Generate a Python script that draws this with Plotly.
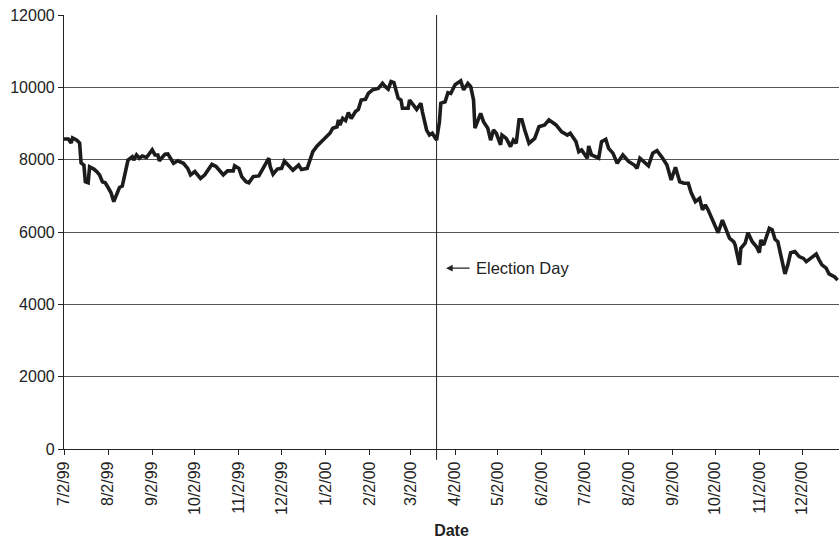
import plotly.graph_objects as go

# Daily index level, July 1999 - December 2000
dates = [
    "1999-07-02", "1999-07-05", "1999-07-07", "1999-07-08", "1999-07-11", "1999-07-13",
    "1999-07-14", "1999-07-16", "1999-07-17", "1999-07-19", "1999-07-20", "1999-07-23",
    "1999-07-25", "1999-07-27", "1999-07-29", "1999-07-31", "1999-08-02", "1999-08-04",
    "1999-08-06", "1999-08-08", "1999-08-10", "1999-08-12", "1999-08-14", "1999-08-16",
    "1999-08-19", "1999-08-20", "1999-08-22", "1999-08-24", "1999-08-26", "1999-08-29",
    "1999-09-02", "1999-09-04", "1999-09-06", "1999-09-07", "1999-09-11", "1999-09-13",
    "1999-09-17", "1999-09-20", "1999-09-24", "1999-09-27", "1999-09-29", "1999-10-02",
    "1999-10-06", "1999-10-09", "1999-10-14", "1999-10-17", "1999-10-22", "1999-10-25",
    "1999-10-29", "1999-10-30", "1999-11-02", "1999-11-04", "1999-11-07", "1999-11-09",
    "1999-11-12", "1999-11-16", "1999-11-19", "1999-11-23", "1999-11-24", "1999-11-26",
    "1999-11-29", "1999-12-02", "1999-12-04", "1999-12-07", "1999-12-10", "1999-12-14",
    "1999-12-16", "1999-12-20", "1999-12-24", "1999-12-27", "1999-12-31", "2000-01-05",
    "2000-01-07", "2000-01-10", "2000-01-11", "2000-01-12", "2000-01-14", "2000-01-16",
    "2000-01-18", "2000-01-20", "2000-01-23", "2000-01-25", "2000-01-27", "2000-01-30",
    "2000-02-01", "2000-02-04", "2000-02-08", "2000-02-11", "2000-02-13", "2000-02-15",
    "2000-02-17", "2000-02-19", "2000-02-22", "2000-02-24", "2000-02-25", "2000-02-29",
    "2000-03-01", "2000-03-03", "2000-03-06", "2000-03-09", "2000-03-10", "2000-03-13",
    "2000-03-15", "2000-03-17", "2000-03-20", "2000-03-22", "2000-03-23", "2000-03-26",
    "2000-03-28", "2000-03-30", "2000-04-02", "2000-04-06", "2000-04-08", "2000-04-11",
    "2000-04-13", "2000-04-15", "2000-04-16", "2000-04-20", "2000-04-22", "2000-04-25",
    "2000-04-27", "2000-04-29", "2000-05-01", "2000-05-04", "2000-05-05", "2000-05-08",
    "2000-05-11", "2000-05-13", "2000-05-15", "2000-05-17", "2000-05-19", "2000-05-21",
    "2000-05-24", "2000-05-28", "2000-05-31", "2000-06-04", "2000-06-07", "2000-06-12",
    "2000-06-16", "2000-06-20", "2000-06-22", "2000-06-26", "2000-06-28", "2000-06-30",
    "2000-07-04", "2000-07-05", "2000-07-07", "2000-07-12", "2000-07-14", "2000-07-17",
    "2000-07-19", "2000-07-22", "2000-07-25", "2000-07-29", "2000-08-02", "2000-08-06",
    "2000-08-08", "2000-08-10", "2000-08-13", "2000-08-16", "2000-08-19", "2000-08-22",
    "2000-08-26", "2000-08-29", "2000-09-01", "2000-09-04", "2000-09-07", "2000-09-10",
    "2000-09-13", "2000-09-15", "2000-09-18", "2000-09-21", "2000-09-23", "2000-09-25",
    "2000-09-27", "2000-09-30", "2000-10-03", "2000-10-04", "2000-10-07", "2000-10-09",
    "2000-10-12", "2000-10-15", "2000-10-16", "2000-10-19", "2000-10-20", "2000-10-23",
    "2000-10-25", "2000-10-28", "2000-10-31", "2000-11-02", "2000-11-03", "2000-11-05",
    "2000-11-07", "2000-11-09", "2000-11-11", "2000-11-13", "2000-11-15", "2000-11-18",
    "2000-11-20", "2000-11-22", "2000-11-24", "2000-11-27", "2000-11-30", "2000-12-03",
    "2000-12-05", "2000-12-08", "2000-12-12", "2000-12-14", "2000-12-16", "2000-12-19",
    "2000-12-21", "2000-12-25", "2000-12-27",
]

index_level = [
    8570, 8570, 8460, 8600, 8540, 8460,
    7910, 7850, 7390, 7360, 7800, 7740,
    7670, 7580, 7390, 7360, 7230, 7090,
    6840, 7020, 7230, 7270, 7620, 7990,
    8080, 7990, 8130, 8040, 8100, 8060,
    8270, 8130, 8130, 7970, 8150, 8160,
    7900, 7970, 7900, 7760, 7580, 7670,
    7480, 7580, 7870, 7810, 7580, 7690,
    7690, 7830, 7760, 7530, 7390, 7360,
    7530, 7550, 7760, 8040, 7810, 7600,
    7740, 7760, 7960, 7850, 7710, 7850,
    7730, 7760, 8220, 8380, 8540, 8730,
    8870, 8910, 9100, 8960, 9140, 9080,
    9300, 9140, 9330, 9390, 9650, 9670,
    9830, 9930, 9970, 10110, 10020, 9950,
    10160, 10130, 9700, 9650, 9420, 9420,
    9650, 9560, 9390, 9560, 9330, 8820,
    8680, 8730, 8540, 9050, 9560, 9600,
    9850, 9830, 10070, 10180, 9930, 10110,
    10020, 9650, 8870, 9280, 9050, 8870,
    8540, 8820, 8730, 8410, 8680, 8590,
    8360, 8540, 8450, 9100, 9100, 8820,
    8450, 8590, 8910, 8960, 9100, 8960,
    8770, 8680, 8730, 8500, 8220, 8270,
    8040, 8380, 8130, 8040, 8500, 8560,
    8310, 8180, 7900, 8130, 7950, 7850,
    7760, 8040, 7950, 7830, 8180, 8250,
    8040, 7850, 7440, 7790, 7390, 7350,
    7350, 7090, 6840, 6930, 6610, 6750,
    6610, 6330, 6100, 5980, 6330, 6100,
    5830, 5730, 5640, 5090, 5550, 5690,
    5980, 5730, 5590, 5430, 5780, 5640,
    5870, 6100, 6060, 5800, 5730, 5230,
    4840, 5090, 5430, 5460, 5320, 5270,
    5180, 5270, 5390, 5230, 5090, 5000,
    4840, 4760, 4670,
]

tick_dates = [
    "1999-07-02", "1999-08-02", "1999-09-02", "1999-10-02", "1999-11-02", "1999-12-02",
    "2000-01-02", "2000-02-02", "2000-03-02", "2000-04-02", "2000-05-02", "2000-06-02",
    "2000-07-02", "2000-08-02", "2000-09-02", "2000-10-02", "2000-11-02", "2000-12-02",
]
tick_labels = [
    "7/2/99", "8/2/99", "9/2/99", "10/2/99", "11/2/99", "12/2/99",
    "1/2/00", "2/2/00", "3/2/00", "4/2/00", "5/2/00", "6/2/00",
    "7/2/00", "8/2/00", "9/2/00", "10/2/00", "11/2/00", "12/2/00",
]

election_day = "2000-03-20"
x_range = ["1999-07-02", "2000-12-28"]

FONT = "Liberation Sans, Arial, sans-serif"
TXT = "#222222"

fig = go.Figure()
fig.add_trace(go.Scatter(
    x=dates, y=index_level, mode="lines",
    line=dict(color="#1c1c1c", width=3.6),
    hoverinfo="x+y", showlegend=False,
))

# Vertical marker for election day, running slightly below the axis
fig.add_shape(
    type="line", xref="x", yref="paper",
    x0=election_day, x1=election_day, y0=-0.025, y1=1,
    line=dict(color=TXT, width=1),
)

# Arrow pointing at the election line, with its caption
fig.add_annotation(
    xref="paper", yref="y", x=0.493, y=5000,
    ax=25, ay=0, axref="pixel", ayref="pixel",
    text="", showarrow=True,
    arrowhead=2, arrowsize=1.1, arrowwidth=1.2, arrowcolor=TXT,
)
fig.add_annotation(
    xref="paper", yref="y", x=0.529, y=5000,
    text="Election Day", showarrow=False,
    xanchor="left", yanchor="middle",
    font=dict(family=FONT, size=16.5, color=TXT),
)

fig.update_layout(
    width=839, height=544,
    margin=dict(l=64, r=0, t=15, b=95),
    paper_bgcolor="white", plot_bgcolor="white",
    font=dict(family=FONT, color=TXT),
    xaxis=dict(
        type="date", range=x_range,
        tickmode="array", tickvals=tick_dates, ticktext=tick_labels,
        tickangle=-90, tickfont=dict(size=16, color=TXT),
        ticks="outside", ticklen=5, tickcolor=TXT, tickwidth=1,
        showline=True, linecolor=TXT, linewidth=1.2,
        showgrid=False, zeroline=False,
        title=dict(text="<b>Date</b>", font=dict(size=16, color=TXT), standoff=10),
    ),
    yaxis=dict(
        range=[0, 12000], dtick=2000, tick0=0, tickformat="d",
        tickfont=dict(size=16, color=TXT),
        ticks="outside", ticklen=5, tickcolor=TXT, tickwidth=1,
        showline=True, linecolor=TXT, linewidth=1.2,
        showgrid=True, gridcolor="#555555", gridwidth=1,
        zeroline=False,
    ),
)

fig.write_html("out.html")
